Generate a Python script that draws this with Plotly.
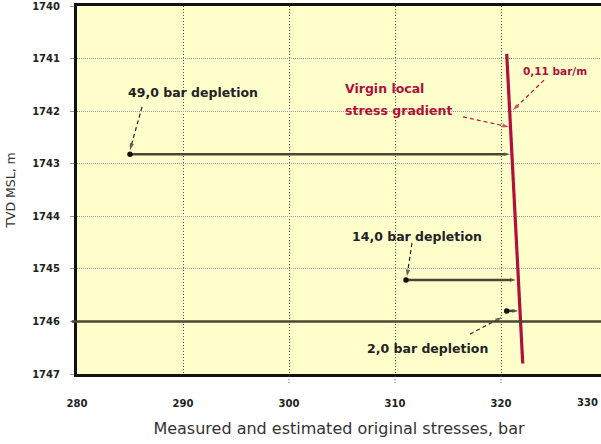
import plotly.graph_objects as go

# Virgin local stress gradient line (bar vs TVD MSL, m)
gradient_x = [320.54, 322.05]
gradient_y = [1740.91, 1746.80]

# Depletion arrows: measured stress (start) -> virgin stress (end)
depletion_y = [1742.82, 1745.21, 1745.80]
depletion_start_x = [285.0, 311.04, 320.54]
depletion_end_x = [320.85, 321.40, 321.63]
depletion_labels = ["49,0 bar depletion", "14,0 bar depletion", "2,0 bar depletion"]
depletion_label_x = [290.94, 312.03, 313.11]
depletion_label_y = [1741.65, 1744.39, 1746.52]

# Dashed leader arrows (tail -> head)
leader_tail_x = [286.13, 311.60, 317.08, 316.42, 324.06]
leader_tail_y = [1741.92, 1744.51, 1746.24, 1742.11, 1741.41]
leader_head_x = [285.00, 311.13, 320.09, 320.75, 321.13]
leader_head_y = [1742.74, 1745.14, 1745.92, 1742.30, 1741.98]
leader_colors = ["#222222", "#222222", "#333333", "#b0103a", "#b0103a"]

reservoir_top = 1746
x_ticks = [280, 290, 300, 310, 320, 330]
y_ticks = [1740, 1741, 1742, 1743, 1744, 1745, 1746, 1747]
x_range = [280, 329.434]

RED = "#b0103a"
DARK = "#4a4632"
FONT = "DejaVu Sans"

fig = go.Figure()

# dashed leaders with arrowheads
for tx, ty, hx, hy, c in zip(leader_tail_x, leader_tail_y, leader_head_x,
                             leader_head_y, leader_colors):
    fig.add_trace(go.Scatter(
        x=[tx, hx], y=[ty, hy], mode="lines+markers",
        line=dict(color=c, width=1.2, dash="4px,3px"),
        marker=dict(symbol=["circle", "arrow"], size=[0, 7], color=c,
                    angleref="previous", line=dict(width=0)),
        hoverinfo="skip", showlegend=False))

# depletion arrows
for sx, ex, y in zip(depletion_start_x, depletion_end_x, depletion_y):
    fig.add_trace(go.Scatter(
        x=[sx, ex], y=[y, y], mode="lines+markers",
        line=dict(color=DARK, width=2.5),
        marker=dict(symbol=["circle", "arrow"], size=[0, 6], color="#111",
                    angleref="previous", line=dict(width=0)),
        hoverinfo="skip", showlegend=False))
fig.add_trace(go.Scatter(
    x=depletion_start_x, y=depletion_y, mode="markers",
    marker=dict(symbol="circle", size=5.5, color="#111"),
    hoverinfo="skip", showlegend=False))

# virgin stress gradient
fig.add_trace(go.Scatter(
    x=gradient_x, y=gradient_y, mode="lines",
    line=dict(color=RED, width=3.2),
    hoverinfo="skip", showlegend=False))

# reservoir top line
fig.add_shape(type="line", xref="paper", yref="y", x0=-0.01, x1=1,
              y0=reservoir_top, y1=reservoir_top,
              line=dict(color=DARK, width=2.5), layer="above")

# vertical grid extends below the frame
for xv in [300, 310, 320]:
    fig.add_shape(type="line", xref="x", yref="paper", x0=xv, x1=xv,
                  y0=-0.025, y1=0, line=dict(color="#555", width=1, dash="1px,2px"))

annotations = []
for t, x, y in zip(depletion_labels, depletion_label_x, depletion_label_y):
    annotations.append(dict(x=x, y=y, xref="x", yref="y", text=t, showarrow=False,
                            font=dict(family=FONT, size=12.5, color="#222", weight="bold")))

# last x tick label sits just past the visible range; keep it inside the page
annotations += [
    dict(x=305.09, y=1741.56, xref="x", yref="y", text="Virgin local", xanchor="left",
         showarrow=False, font=dict(family=FONT, size=12.5, color=RED, weight="bold")),
    dict(x=305.09, y=1741.98, xref="x", yref="y", text="stress gradient", xanchor="left",
         showarrow=False, font=dict(family=FONT, size=12.5, color=RED, weight="bold")),
    dict(x=325.14, y=1741.24, xref="x", yref="y", text="0,11 bar/m",
         showarrow=False, font=dict(family=FONT, size=10.5, color=RED, weight="bold")),
    dict(x=1, y=0, xref="paper", yref="paper", text=str(x_ticks[-1]),
         xanchor="right", yanchor="top", yshift=-21, xshift=-1, showarrow=False,
         font=dict(family=FONT, size=10, color="#222", weight="bold")),
]

fig.update_layout(
    width=601, height=444,
    margin=dict(l=77, r=0, t=6, b=70),
    paper_bgcolor="white", plot_bgcolor="#ffffcc",
    annotations=annotations,
    xaxis=dict(
        range=x_range, tickvals=x_ticks[:-1],
        ticks="", ticklabelstandoff=18,
        tickfont=dict(family=FONT, size=10, color="#222", weight="bold"),
        showgrid=True, gridcolor="#555", gridwidth=1, griddash="1px,2px",
        showline=True, linecolor="#111", linewidth=3, mirror=True,
        zeroline=False,
        title=dict(text="Measured and estimated original stresses, bar", standoff=15,
                   font=dict(family=FONT, size=16, color="#333")),
    ),
    yaxis=dict(
        range=[1747, 1740], tickvals=y_ticks,
        ticks="outside", ticklen=4, tickcolor="#999", tickwidth=1,
        ticklabelstandoff=8,
        tickfont=dict(family=FONT, size=10, color="#222", weight="bold"),
        showgrid=True, gridcolor="#999", gridwidth=1, griddash="1px,1px",
        showline=True, linecolor="#111", linewidth=3,
        zeroline=False,
        title=dict(text="TVD MSL, m", standoff=14,
                   font=dict(family=FONT, size=12.5, color="#333")),
    ),
)

fig.write_html("out.html")
